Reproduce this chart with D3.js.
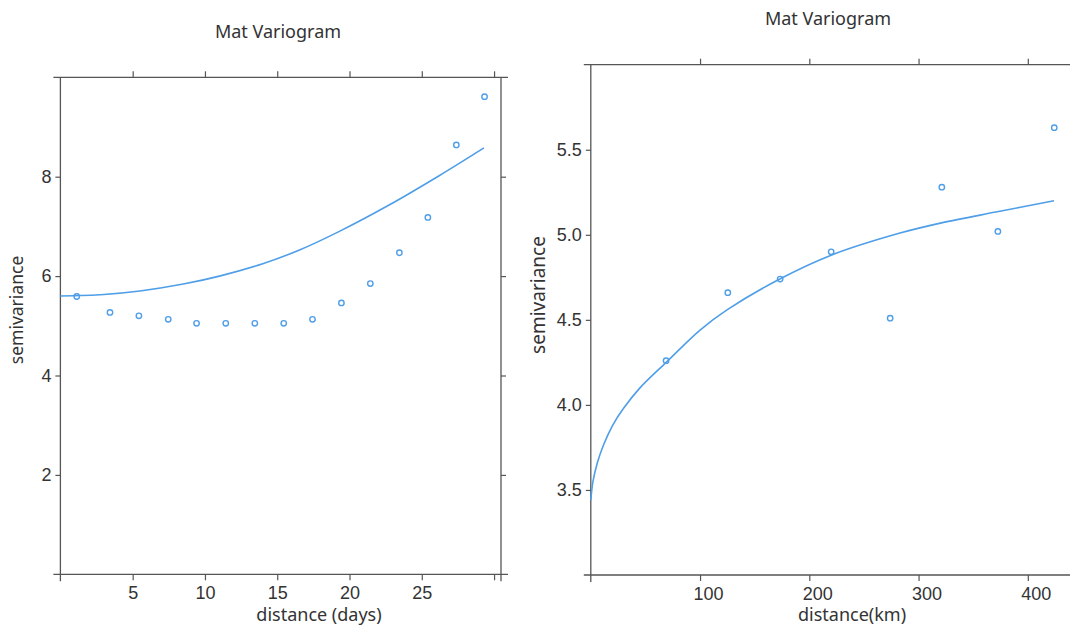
<!DOCTYPE html>
<html>
<head>
<meta charset="utf-8">
<script src="https://cdn.jsdelivr.net/npm/d3@7"></script>
<style>
  body { margin: 0; background: #fff; }
  svg { display: block; font-family: "Noto Sans", sans-serif; }
</style>
</head>
<body>
<div id="chart"></div>
<script>
// left panel: distance in days
const daysLag = [1.13, 3.43, 5.43, 7.46, 9.42, 11.44, 13.45, 15.45, 17.44, 19.44, 21.44, 23.45, 25.42, 27.39, 29.34];
const daysGamma = [5.59, 5.27, 5.20, 5.13, 5.05, 5.05, 5.05, 5.05, 5.13, 5.46, 5.85, 6.47, 7.18, 8.64, 9.61];
const daysFitLag = [0, 3, 5.5, 8.5, 11, 14, 16.5, 19.3, 22.8, 26.2, 29.3];
const daysFitGamma = [5.60, 5.63, 5.70, 5.84, 6.00, 6.25, 6.52, 6.90, 7.44, 8.02, 8.58];
const daysTicksX = [5, 10, 15, 20, 25, 30];
const daysTicksY = [2, 4, 6, 8];

// right panel: distance in km
const kmLag = [68.9, 125.4, 173.3, 220, 274, 321.3, 372.6, 424.2];
const kmGamma = [4.26, 4.66, 4.74, 4.90, 4.51, 5.28, 5.02, 5.63];
const kmFitLag = [0, 2, 6, 12, 20, 30, 45, 69, 100, 125, 173, 220, 283, 321, 372, 424];
const kmFitGamma = [3.44, 3.55, 3.66, 3.77, 3.88, 3.98, 4.10, 4.25, 4.44, 4.56, 4.74, 4.88, 5.01, 5.07, 5.135, 5.20];
const kmTicksX = [100, 200, 300, 400];
const kmTicksY = [3.5, 4.0, 4.5, 5.0, 5.5];

const width = 1070, height = 628;
const blue = "#4f9ee8";
const axisColor = "#555";
const textColor = "#333";

const svg = d3.select("#chart").append("svg")
    .attr("width", width)
    .attr("height", height);

function drawPanel(p) {
    const x = d3.scaleLinear().domain(p.xDomain).range([p.left, p.right]);
    const y = d3.scaleLinear().domain(p.yDomain).range([p.bottom, p.top]);
    const g = svg.append("g");
    const ov = 7;

    // frame lines crossing at the corners
    const frame = [
        [p.left - ov, p.bottom, p.right + ov, p.bottom],
        [p.left - ov, p.top, p.right + ov, p.top],
        [p.left, p.top, p.left, p.bottom + ov],
        [p.right, p.top, p.right, p.bottom + ov]
    ];
    g.selectAll(".frame").data(frame).join("line")
        .attr("x1", d => d[0]).attr("y1", d => d[1])
        .attr("x2", d => d[2]).attr("y2", d => d[3])
        .attr("stroke", axisColor).attr("stroke-width", 1.3);

    const styleAxis = sel => {
        sel.select(".domain").remove();
        sel.selectAll(".tick line").attr("stroke", axisColor).attr("stroke-width", 1.2);
        sel.selectAll(".tick text").attr("fill", textColor).style("font-size", "18px");
    };

    g.append("g")
        .attr("transform", `translate(0,${p.bottom})`)
        .call(d3.axisBottom(x).tickValues(p.ticksX).tickSize(6).tickPadding(6)
            .tickFormat(d => p.labelsX.includes(d) ? d : ""))
        .call(styleAxis)
        .call(a => a.selectAll(".tick text").attr("dx", p.xLabelShift));

    g.append("g")
        .attr("transform", `translate(0,${p.top})`)
        .call(d3.axisTop(x).tickValues(p.ticksX).tickSize(6).tickFormat(""))
        .call(styleAxis);

    g.append("g")
        .attr("transform", `translate(${p.left},0)`)
        .call(d3.axisLeft(y).tickValues(p.ticksY).tickSize(5).tickPadding(4).tickFormat(p.yFormat))
        .call(styleAxis);

    g.append("g")
        .attr("transform", `translate(${p.right},0)`)
        .call(d3.axisRight(y).tickValues(p.ticksY).tickSize(5).tickFormat(""))
        .call(styleAxis);

    // fitted model
    const fit = p.fitX.map((v, i) => [v, p.fitY[i]]);
    g.append("path")
        .datum(fit)
        .attr("fill", "none")
        .attr("stroke", blue)
        .attr("stroke-width", 1.6)
        .attr("d", d3.line().x(d => x(d[0])).y(d => y(d[1])).curve(d3.curveCatmullRom.alpha(0.5)));

    // empirical semivariance
    g.selectAll(".pt")
        .data(p.ptX.map((v, i) => [v, p.ptY[i]]))
        .join("circle")
        .attr("cx", d => x(d[0]))
        .attr("cy", d => y(d[1]))
        .attr("r", 2.7)
        .attr("fill", "none")
        .attr("stroke", blue)
        .attr("stroke-width", 1.4);

    g.append("text")
        .attr("x", p.titleX).attr("y", p.titleY)
        .attr("text-anchor", "middle")
        .attr("fill", textColor)
        .style("font-size", "18px")
        .text("Mat Variogram");

    g.append("text")
        .attr("x", p.xLabelX).attr("y", 621)
        .attr("text-anchor", "middle")
        .attr("fill", textColor)
        .style("font-size", "18px")
        .text(p.xLabel);

    g.append("text")
        .attr("transform", `translate(${p.yLabelX},${p.yLabelY}) rotate(-90)`)
        .attr("text-anchor", "middle")
        .attr("fill", textColor)
        .style("font-size", p.yLabelSize)
        .text("semivariance");
}

drawPanel({
    left: 60.4, right: 501, top: 77.3, bottom: 574.3,
    xDomain: [0, 30.48], yDomain: [0, 10],
    ticksX: daysTicksX, labelsX: [5, 10, 15, 20, 25], ticksY: daysTicksY,
    xLabelShift: 0, yFormat: d3.format("d"),
    fitX: daysFitLag, fitY: daysFitGamma, ptX: daysLag, ptY: daysGamma,
    titleX: 278, titleY: 38,
    xLabel: "distance (days)", xLabelX: 319,
    yLabelX: 23, yLabelY: 310, yLabelSize: "17.5px"
});

drawPanel({
    left: 590.8, right: 1082, top: 64.7, bottom: 575,
    xDomain: [0, 449.6], yDomain: [3, 6],
    ticksX: kmTicksX, labelsX: kmTicksX, ticksY: kmTicksY,
    xLabelShift: 8, yFormat: d3.format(".1f"),
    fitX: kmFitLag, fitY: kmFitGamma, ptX: kmLag, ptY: kmGamma,
    titleX: 828, titleY: 25,
    xLabel: "distance(km)", xLabelX: 852,
    yLabelX: 545, yLabelY: 295, yLabelSize: "19px"
});
</script>
</body>
</html>
